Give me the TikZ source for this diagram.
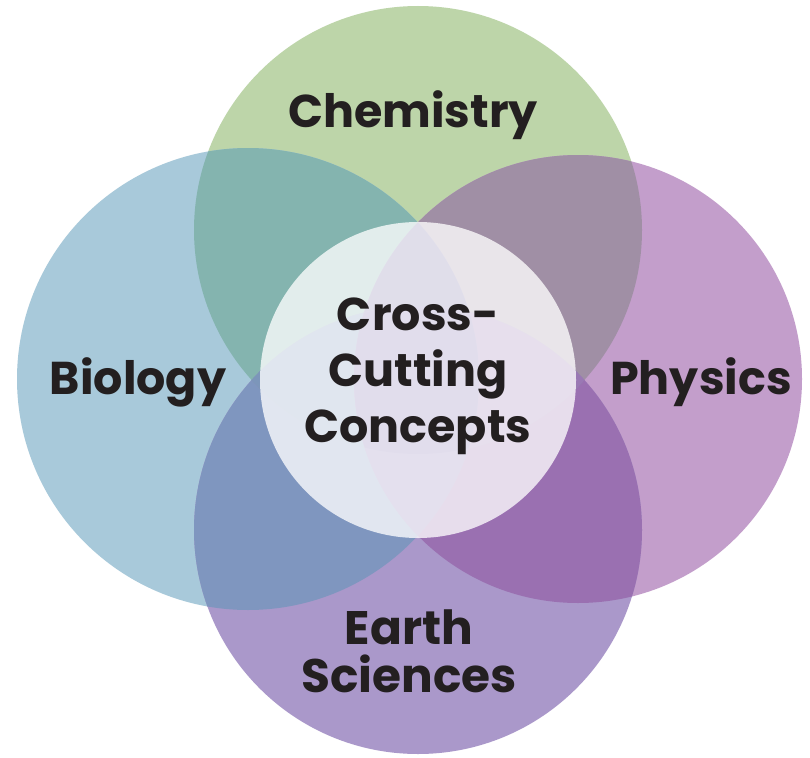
\documentclass[tikz,border=0pt]{standalone}
\usepackage{fontspec}
\setmainfont{Poppins}
\definecolor{chemC}{HTML}{BDD5A9}
\definecolor{bioC}{HTML}{A8C9DA}
\definecolor{physC}{HTML}{C39ECB}
\definecolor{earthC}{HTML}{AA98CA}
\definecolor{cbC}{HTML}{84B4AF}
\definecolor{cpC}{HTML}{A08FA5}
\definecolor{beC}{HTML}{7F96BF}
\definecolor{peC}{HTML}{9A70B1}
\definecolor{bpC}{HTML}{8C80B8}
\definecolor{ceC}{HTML}{8C90B0}
\definecolor{cbpC}{HTML}{7A74A8}
\definecolor{cbeC}{HTML}{7C96BA}
\definecolor{cpeC}{HTML}{9A78B4}
\definecolor{bpeC}{HTML}{8C7CB8}
\definecolor{allC}{HTML}{7E70B0}
\definecolor{txtC}{HTML}{231F20}
\def\chem{(418,230) circle (224)}
\def\bio{(248,379) circle (231)}
\def\phys{(578,379) circle (224)}
\def\earth{(418,530) circle (224)}
\def\core{(418,380) circle (158)}
\tikzset{
  label/.style={text=txtC, font=\bfseries\fontsize{46}{56}\selectfont, inner sep=0pt, align=center}
}
\begin{document}
\begin{tikzpicture}[x=1pt,y=-1pt]
\useasboundingbox (0,0) rectangle (810,757);
\fill[white] (0,0) rectangle (810,757);
% single circles
\fill[chemC] \chem;
\fill[bioC] \bio;
\fill[physC] \phys;
\fill[earthC] \earth;
% pairwise overlaps
\begin{scope}\clip \chem; \fill[cbC] \bio; \end{scope}
\begin{scope}\clip \chem; \fill[cpC] \phys; \end{scope}
\begin{scope}\clip \bio; \fill[beC] \earth; \end{scope}
\begin{scope}\clip \phys; \fill[peC] \earth; \end{scope}
\begin{scope}\clip \bio; \fill[bpC] \phys; \end{scope}
\begin{scope}\clip \chem; \fill[ceC] \earth; \end{scope}
% triple overlaps
\begin{scope}\clip \chem; \clip \bio; \fill[cbpC] \phys; \end{scope}
\begin{scope}\clip \chem; \clip \bio; \fill[cbeC] \earth; \end{scope}
\begin{scope}\clip \chem; \clip \phys; \fill[cpeC] \earth; \end{scope}
\begin{scope}\clip \bio; \clip \phys; \fill[bpeC] \earth; \end{scope}
% quadruple overlap
\begin{scope}\clip \chem; \clip \bio; \clip \phys; \fill[allC] \earth; \end{scope}
% central circle
\fill[white, fill opacity=0.77] \core;
% labels
\node[label, anchor=base] (chemistry) at (413,127) {Chemistry};
\node[label, anchor=base] (biology) at (138,394) {Biology};
\node[label, anchor=base] (physics) at (701,394) {Physics};
\node[label, font=\bfseries\fontsize{46}{56}\selectfont] (ccc) at (418,376) {Cross-\\Cutting\\Concepts};
\node[label, font=\bfseries\fontsize{47}{48}\selectfont] (earthsci) at (409,651) {Earth\\Sciences};
\end{tikzpicture}
\end{document}
